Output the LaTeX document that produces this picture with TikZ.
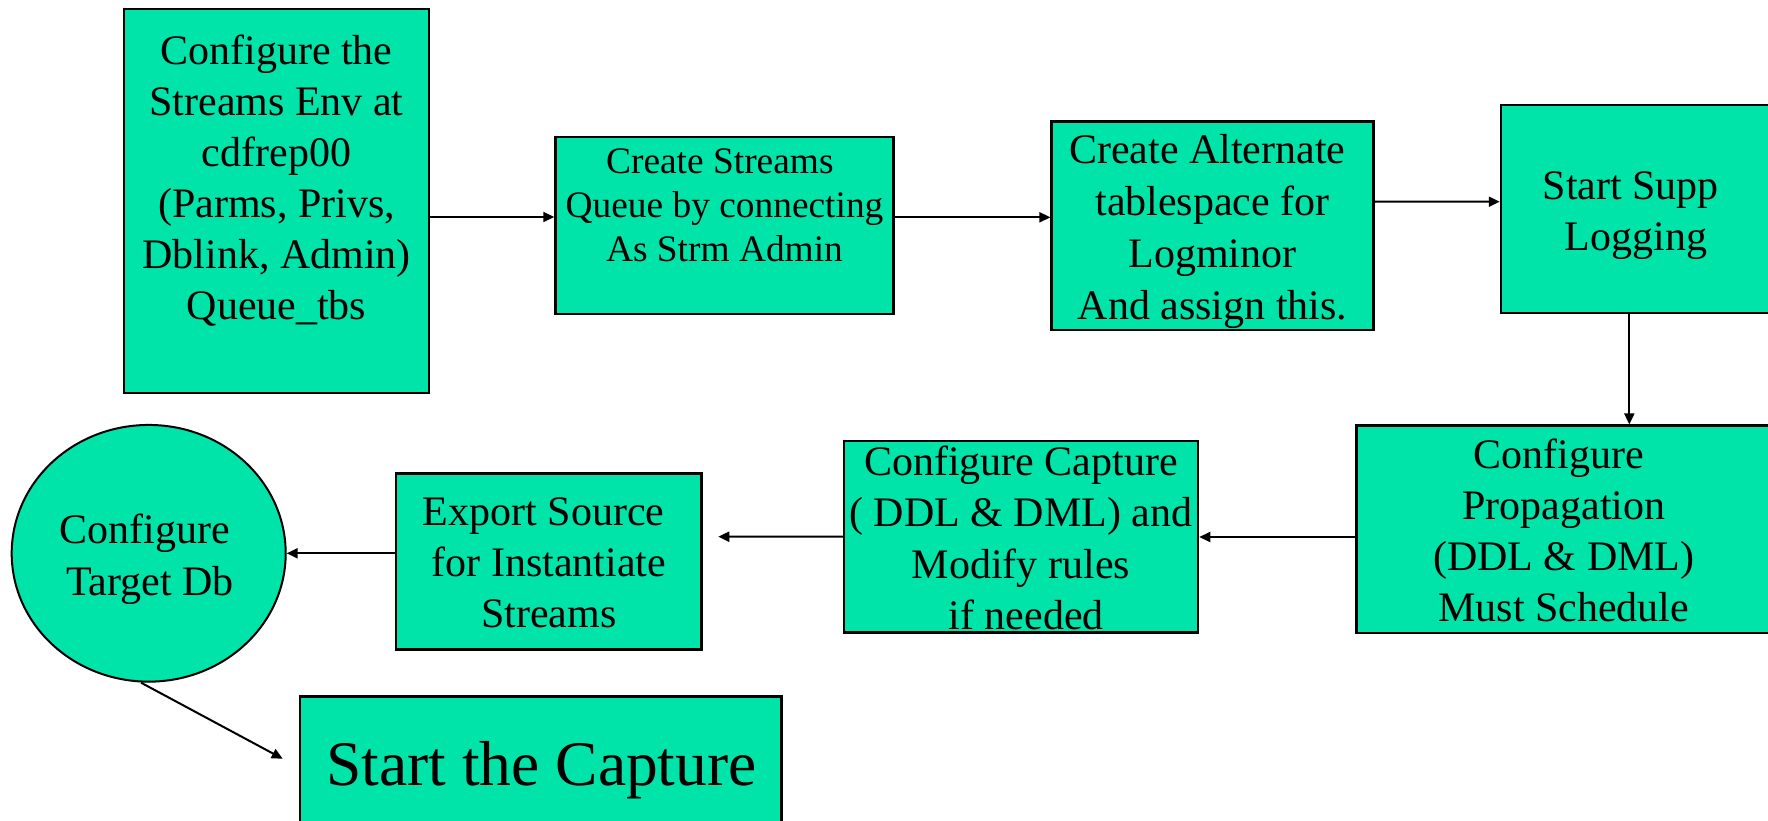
\documentclass[tikz,border=0pt]{standalone}
\usepackage{fontspec}
\setmainfont{Liberation Serif}
\usetikzlibrary{arrows.meta,calc,shapes.geometric}
\definecolor{boxgreen}{RGB}{0,228,170}
\tikzset{
  stepbox/.style={draw=black, line width=2.5pt, fill=boxgreen, rectangle, inner sep=0pt},
  stepoval/.style={draw=black, line width=2pt, fill=boxgreen, ellipse, inner sep=0pt},
  steptext/.style={align=center, inner sep=0pt, font=\fontsize{42}{51}\selectfont},
  conn/.style={line width=2pt, -{Triangle[length=11pt,width=10pt]}},
}
\begin{document}
\begin{tikzpicture}[x=1pt,y=-1pt]
\useasboundingbox (0,0) rectangle (1768,821);
\clip (0,0) rectangle (1768,821);

% top row
\node[stepbox, minimum width=305pt, minimum height=384pt] (b1) at (276.5,201) {};
\node[steptext] (t1) at (276.5,180.5)
  {Configure the\\Streams Env at\hspace*{0.25em}\\cdfrep00\\(Parms, Privs,\\Dblink, Admin)\\Queue\_tbs};

\node[stepbox, minimum width=338pt, minimum height=177pt] (b2) at (724.5,225.5) {};
\node[steptext, font=\fontsize{37.4}{44.2}\selectfont] (t2) at (724.5,205.5)
  {Create Streams\hspace*{0.25em}\\Queue by connecting\\As Strm Admin};

\node[stepbox, minimum width=321.7pt, minimum height=208.5pt] (b3) at (1212.5,225.75) {};
\node[steptext, font=\fontsize{42}{51.8}\selectfont] (t3) at (1212.5,231.4)
  {Create Alternate\hspace*{0.25em}\\tablespace for\hspace*{0.25em}\\Logminor\\And assign this.};

\node[stepbox, minimum width=270pt, minimum height=208pt] (b4) at (1636,209) {};
\node[steptext] (t4) at (1636,215.3)
  {Start Supp\hspace*{0.25em}\\Logging};

% bottom row
\node[stepbox, minimum width=414.3pt, minimum height=207.3pt] (b5) at (1563.85,529.35) {};
\node[steptext] (t5) at (1563.85,530.3)
  {Configure\hspace*{0.25em}\\Propagation\\(DDL \& DML)\\Must Schedule};

\node[stepbox, minimum width=354pt, minimum height=191.7pt] (cap) at (1021,536.85) {};
\node[steptext, font=\fontsize{42}{51.5}\selectfont] (t6) at (1021,538)
  {Configure Capture\\( DDL \& DML) and\\Modify rules\\\hspace*{0.25em}if needed};

\node[stepbox, minimum width=305.7pt, minimum height=176pt] (exp) at (548.85,561.3) {};
\node[steptext] (t7) at (548.85,562.8)
  {Export Source\hspace*{0.25em}\\for Instantiate\hspace*{0.25em}\\Streams};

\node[stepoval, minimum width=274pt, minimum height=256.7pt] (ell) at (148.7,553.3) {};
\node[steptext, font=\fontsize{42}{52.3}\selectfont] (t8) at (150,559.1)
  {Configure\hspace*{0.25em}\\Target Db};

\node[stepbox, minimum width=481.7pt, minimum height=203.3pt] (start) at (540.85,798.35) {};
\node[inner sep=0pt, anchor=base, font=\fontsize{63.5}{76}\selectfont] (t9) at (541.5,785)
  {Start the Capture};

% connectors
\draw[conn] ($(b1.east)+(0,16)$) -- ($(b2.west)+(0,-8.5)$);
\draw[conn] ($(b2.east)+(0,-8.2)$) -- ($(b3.west)+(0,-8.45)$);
\draw[conn] ($(b3.east)+(0,-24)$) -- ($(b4.west)+(0,-7.3)$);
\draw[conn] ($(b4.south)+(-6.7,0)$) -- ($(b5.north)+(65.45,0)$);
\draw[conn] ($(b5.west)+(0,7.65)$) -- ($(cap.east)+(0,0.15)$);
\draw[conn] ($(cap.west)+(0,-0.15)$) -- ($(exp.east)+(15.3,-24.6)$);
\draw[conn] ($(exp.west)+(0,-8)$) -- (ell.east);
\draw[conn] ($(ell.south)+(-7.7,0)$) -- ($(start.north west)+(-16,63.3)$);
\end{tikzpicture}
\end{document}
